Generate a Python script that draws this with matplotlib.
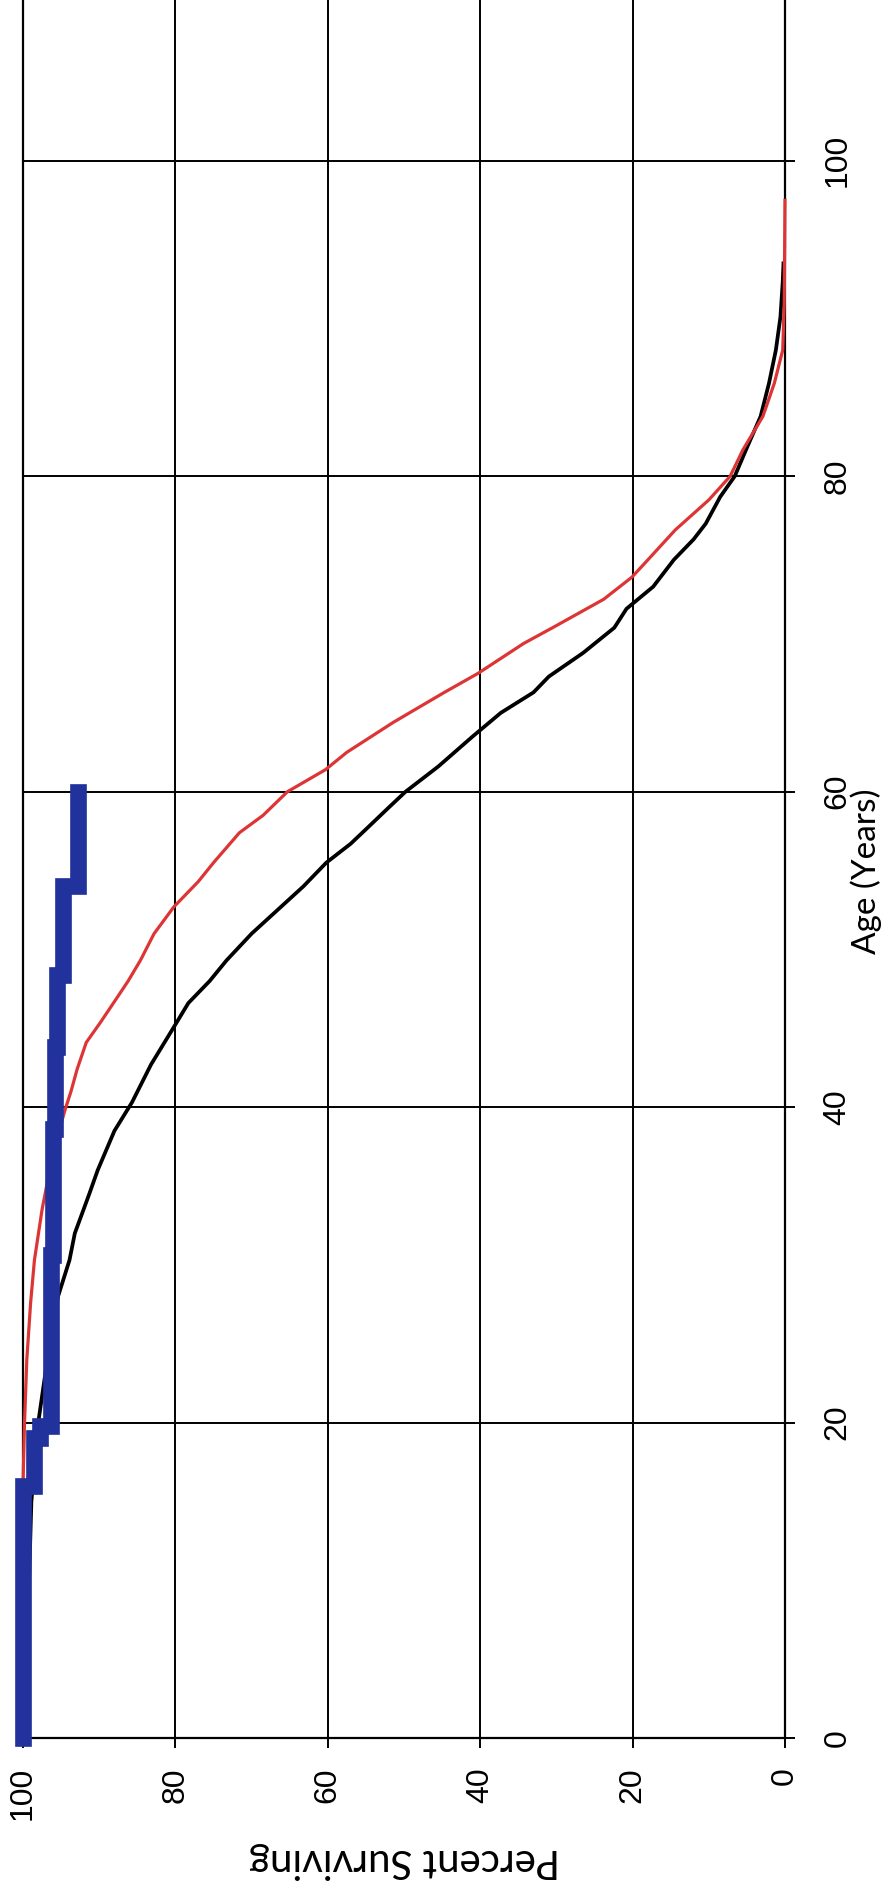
import numpy as np
import matplotlib
matplotlib.use("Agg")
import matplotlib.pyplot as plt

# survival curves: age (years) vs percent surviving
black_age = [0, 5, 10, 15, 20, 25, 28, 30.3, 32, 34.5, 36, 38.5, 40.3, 42.7, 45,
             46.6, 48, 49.3, 51, 52.5, 54, 55.5, 56.7, 57.8, 59, 60, 61.6, 63.5,
             65, 66.3, 67.3, 68.8, 70.4, 71.6, 73, 74.7, 76, 77, 78.7, 80, 81.7,
             83.8, 85.9, 88, 90.1, 92.3, 93.5]
black_pct = [100, 99.5, 99.2, 98.9, 98.0, 96.5, 95.4, 93.9, 93.2, 91.3, 90.2, 88.0,
             85.7, 83.2, 80.3, 78.3, 75.5, 73.3, 70.0, 66.6, 63.2, 60.2, 57.0, 54.6,
             52.0, 49.8, 45.5, 41.0, 37.3, 33.0, 31.0, 26.5, 22.4, 20.8, 17.3, 14.6,
             12.0, 10.4, 8.5, 6.6, 5.1, 3.2, 2.1, 1.2, 0.6, 0.3, 0.2]

red_age = [0, 16, 20, 24, 27.6, 30.3, 33.5, 36, 38.6, 39.8, 41, 42.4, 44.1, 45.4,
           47.2, 48, 49.3, 51, 52.7, 54.3, 55.5, 57.4, 58.5, 60, 61.4, 62.5, 64.4,
           66.3, 67.5, 69.4, 70.4, 72.2, 73.6, 74.7, 76.6, 78.5, 80, 81.7, 83.8,
           85.9, 88, 91, 97.5]
red_pct = [100, 100, 99.8, 99.5, 99.0, 98.5, 97.5, 96.5, 95.2, 94.5, 93.7, 92.9,
           91.7, 89.8, 87.3, 86.2, 84.6, 82.8, 80.2, 77.0, 75.0, 71.6, 68.5, 65.3,
           60.3, 57.5, 51.4, 44.7, 40.3, 34.3, 30.5, 23.8, 20.1, 18.0, 14.4, 10.0,
           7.2, 5.5, 2.9, 1.4, 0.3, 0.1, 0.0]

# cohort (step curve)
blue_age = [0, 16, 19, 19.8, 30.6, 38.6, 43.8, 48.4, 54, 60]
blue_pct = [100, 98.5, 97.8, 96.3, 96.0, 95.8, 95.5, 94.7, 92.8, 92.8]

pct_ticks = [0, 20, 40, 60, 80, 100]
age_ticks = [0, 20, 40, 60, 80, 100]

W, H = 893, 1888
fig = plt.figure(figsize=(W / 100, H / 100), dpi=100)
fig.patch.set_facecolor("white")

# page is turned: age runs up the sheet, percent runs right-to-left
ax = fig.add_axes([23 / W, 150 / H, (785 - 23) / W, 1 - 150 / H])
ax.set_xlim(100, 0)
ax.set_ylim(0, 110.2)

ax.set_axisbelow(True)
ax.grid(True, color="black", linewidth=1.4)

ax.plot(black_pct, black_age, color="black", lw=2.7, zorder=3, clip_on=False)
ax.plot(red_pct, red_age, color="#dd3535", lw=2.3, zorder=4, clip_on=False)

# step line built from the cohort values
step_age = np.repeat(blue_age, 2)[1:]
step_pct = np.repeat(blue_pct, 2)[:-1]
ax.plot(step_pct, step_age, color="#22329c", lw=12, zorder=5, clip_on=False,
        solid_capstyle="projecting", solid_joinstyle="miter")

for s in ["left", "right", "bottom"]:
    ax.spines[s].set_color("black")
    ax.spines[s].set_linewidth(1.6)
ax.spines["top"].set_visible(False)

ax.set_xticks(pct_ticks)
ax.set_yticks(age_ticks)
ax.yaxis.tick_right()
ax.tick_params(axis="both", direction="out", length=7, width=1.4, color="black")
ax.tick_params(axis="x", pad=14, labelsize=23)
ax.tick_params(axis="y", pad=20, labelsize=23)

for lab in ax.get_xticklabels():
    lab.set_rotation(90)
    lab.set_ha("center")
    lab.set_va("top")
    lab.set_family("Liberation Sans")
for lab in ax.get_yticklabels():
    lab.set_rotation(90)
    lab.set_ha("left")
    lab.set_va("center")
    lab.set_family("Liberation Sans")

fig.text(404 / W, 1 - 1860 / H, "Percent Surviving", rotation=180,
         ha="center", va="center", fontsize=29, family="Lato")
fig.text(866 / W, 1 - 871 / H, "Age (Years)", rotation=90,
         ha="center", va="center", fontsize=24, family="Lato")

fig.savefig("out.png", dpi=100)
